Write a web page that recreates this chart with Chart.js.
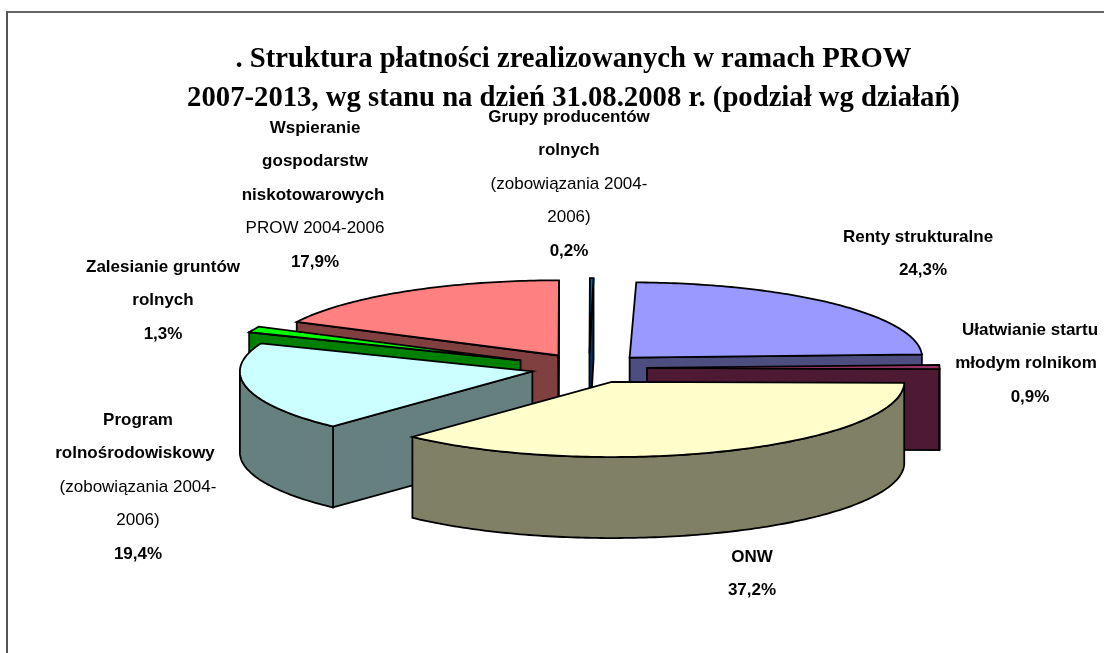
<!DOCTYPE html>
<html><head><meta charset="utf-8">
<style>
html,body{margin:0;padding:0;background:#fff;overflow:hidden}
#wrap{position:absolute;left:0;top:0;width:1104px;height:653px}
#frame{position:absolute;left:6px;top:11px;right:0;bottom:0;border-left:2px solid #555;border-top:2px solid #666;box-sizing:border-box}
canvas{position:absolute;left:0;top:0}
</style>
<script src="https://cdn.jsdelivr.net/npm/chart.js@4"></script>
</head><body>
<div id="wrap"><div id="frame"></div><canvas id="c" width="1104" height="653"></canvas></div>
<script>
const titleLines = [". Struktura płatności zrealizowanych w ramach PROW", "2007-2013, wg stanu na dzień 31.08.2008 r. (podział wg działań)"];
const categories = ["Renty strukturalne","Ułatwianie startu młodym rolnikom","ONW","Program rolnośrodowiskowy (zobowiązania 2004-2006)","Zalesianie gruntów rolnych","Wspieranie gospodarstw niskotowarowych PROW 2004-2006","Grupy producentów rolnych (zobowiązania 2004-2006)"];
const values = [24.3,0.9,37.2,19.4,1.3,17.9,0.2];
const topColors = ["#9999ff","#993366","#ffffcc","#ccffff","#00ff00","#ff8080","#0066cc"];
const wallColors = ["#4d4d80","#4d1933","#808066","#668080","#008000","#804040","#003366"];
const sliceOffsets = [58,58,58,58,75,58,58];
const drawOrder = [5,4,6,0,1,3,2];
// label text: [string, bold, x nudge]
const labelLines = [
 [["Renty strukturalne",1,-5]],
 [["Ułatwianie startu",1,0],["młodym rolnikom",1,-4]],
 [["ONW",1,0]],
 [["Program",1,0],["rolnośrodowiskowy",1,-3],["(zobowiązania 2004-",0,0],["2006)",0,0]],
 [["Zalesianie gruntów",1,0],["rolnych",1,0]],
 [["Wspieranie",1,0],["gospodarstw",1,0],["niskotowarowych",1,-2],["PROW 2004-2006",0,0]],
 [["Grupy producentów",1,0],["rolnych",1,0],["(zobowiązania 2004-",0,0],["2006)",0,0]]
];
const labelCenterX = [923,1030,752,138,163,315,569];
const labelTopY = [237,330,557,420,267,128,117];
const labelStep = 33.5;
const SQUASH = 0.257, DEPTH = 81, SHIFT_X = 15.5;

const pie3d = {
  id:'pie3d',
  beforeDatasetDraw(chart,args){
    const ctx = chart.ctx, meta = args.meta;
    ctx.save();
    ctx.lineWidth = 1.8; ctx.lineJoin='miter'; ctx.strokeStyle='#000';
    drawOrder.forEach(i=>{
      const el = meta.data[i];
      const a = el.startAngle, b = el.endAngle, r = el.outerRadius, off = el.options.offset, mid=(a+b)/2;
      const cy0 = el.y;
      const P = (ang,rad,h)=>[el.x + SHIFT_X + off*Math.cos(mid) + rad*Math.cos(ang),
                              cy0 + SQUASH*(off*Math.sin(mid) + rad*Math.sin(ang)) + h];
      const poly=(pts,fill)=>{ctx.beginPath();pts.forEach((p,k)=>k?ctx.lineTo(p[0],p[1]):ctx.moveTo(p[0],p[1]));ctx.closePath();ctx.fillStyle=fill;ctx.fill();ctx.stroke();};
      const wall = wallColors[i];
      if(Math.cos(a)<0) poly([P(a,0,0),P(a,r,0),P(a,r,DEPTH),P(a,0,DEPTH)],wall);
      if(Math.cos(b)>0) poly([P(b,0,0),P(b,r,0),P(b,r,DEPTH),P(b,0,DEPTH)],wall);
      // front-facing part of outer wall
      for(const k of [-1,0,1]){
        const lo=Math.max(a,k*2*Math.PI), hi=Math.min(b,k*2*Math.PI+Math.PI);
        if(hi>lo){
          const n=Math.max(2,Math.ceil((hi-lo)*60)); const up=[],dn=[];
          for(let s=0;s<=n;s++){const t=lo+(hi-lo)*s/n; up.push(P(t,r,0)); dn.unshift(P(t,r,DEPTH));}
          poly(up.concat(dn),wall);
        }
      }
      const n=Math.max(2,Math.ceil((b-a)*60)); const top=[P(a,0,0)];
      for(let s=0;s<=n;s++) top.push(P(a+(b-a)*s/n,r,0));
      poly(top,topColors[i]);
    });
    ctx.restore();
    return false;
  },
  afterDraw(chart){
    const ctx=chart.ctx; ctx.save(); ctx.textAlign='center'; ctx.textBaseline='middle'; ctx.fillStyle='#000';
    categories.forEach((c,i)=>{
      const lines=labelLines[i].concat([[values[i].toFixed(1).replace('.',',')+'%',1,0]]);
      lines.forEach((l,j)=>{
        ctx.font=(l[1]?'bold ':'')+'17px "Liberation Sans", Arial, sans-serif';
        ctx.fillText(l[0],labelCenterX[i]+l[2],labelTopY[i]+j*labelStep);
      });
    });
    ctx.restore();
  }
};

new Chart(document.getElementById('c'),{
  type:'pie',
  data:{labels:categories,datasets:[{data:values,backgroundColor:topColors,offset:sliceOffsets,radius:292.5,borderWidth:0}]},
  options:{
    responsive:false,animation:false,rotation:1.3,circumference:359.5,
    layout:{padding:{left:43,right:0,top:0,bottom:34}},
    plugins:{
      legend:{display:false},tooltip:{enabled:false},
      title:{display:true,text:titleLines,color:'#000',padding:{top:41,bottom:0},
        font:{family:'"Liberation Serif","Times New Roman",serif',size:28.7,weight:'bold',lineHeight:1.33}}
    }
  },
  plugins:[pie3d]
});
</script>
</body></html>
